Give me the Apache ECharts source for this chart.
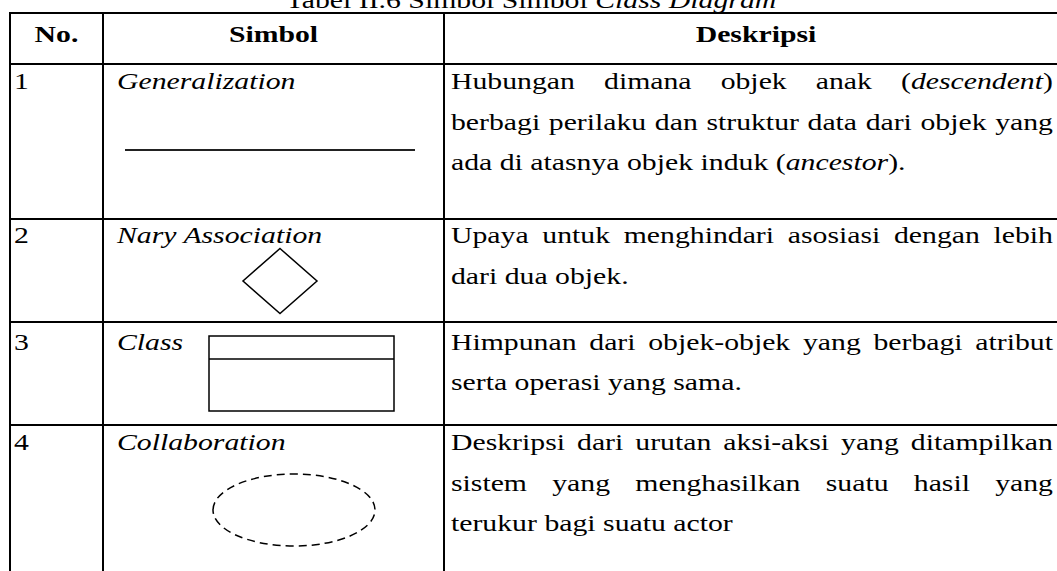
<!DOCTYPE html>
<html>
<head>
<meta charset="utf-8">
<style>
html,body{margin:0;padding:0;background:#fff;}
#chart{width:1057px;height:571px;}
</style>
<script src="https://cdn.jsdelivr.net/npm/echarts@6/dist/echarts.min.js"></script>
</head>
<body>
<div id="chart"></div>
<script>
// ---------------- DATA ----------------
const titleText = 'Tabel II.6 Simbol Simbol _Class Diagram_';
const headers = ['No.', 'Simbol', 'Deskripsi'];
const rowNumbers = ['1', '2', '3', '4'];
const symbolNames = ['Generalization', 'Nary Association', 'Class', 'Collaboration'];
const symbolKinds = ['line', 'diamond', 'classBox', 'dashedEllipse'];
const descriptions = [
  ['Hubungan dimana objek anak (_descendent_)',
   'berbagi perilaku dan struktur data dari objek yang',
   'ada di atasnya objek induk (_ancestor_).'],
  ['Upaya untuk menghindari asosiasi dengan lebih',
   'dari dua objek.'],
  ['Himpunan dari objek-objek yang berbagi atribut',
   'serta operasi yang sama.'],
  ['Deskripsi dari urutan aksi-aksi yang ditampilkan',
   'sistem yang menghasilkan suatu hasil yang',
   'terukur bagi suatu actor']
];

// ---------------- LAYOUT (table units) ----------------
const L = {
  fontFamily: 'Liberation Serif',
  size: 24,
  sx: 1.24,          // horizontal stretch of the scanned page
  mid: 8,            // baseline -> middle offset
  colX: [10, 103, 444, 1068],
  headTop: 13,
  headBottom: 64,
  rowBottoms: [219, 322, 425, 580],
  textX: [14, 117, 451],
  descRight: 1053,
  rowBaselineOffset: [25.5, 24.5, 28, 25.5],
  pitch: 40.5,
  titleCx: 531,
  titleBaseline: 8,
  headBaseline: 42,
  lineW: 2
};
const SYM = {
  line: { x1: 22, x2: 312, y: 86 },
  diamond: { cx: 177, cy: 62, hw: 37, hh: 32.5 },
  classBox: { x: 106, w: 185, y: 14, div: 37, bottom: 89 },
  dashedEllipse: { cx: 191, cy: 85, rx: 81, ry: 36 }
};

// ---------------- helpers ----------------
const mctx = document.createElement('canvas').getContext('2d');
function measure(text, italic, bold) {
  mctx.font = (italic ? 'italic ' : '') + (bold ? 'bold ' : '') + L.size + 'px "' + L.fontFamily + '"';
  return mctx.measureText(text).width * L.sx;
}
function parseSegments(line) {
  return line.split('_').map((t, i) => ({ text: t, italic: i % 2 === 1 })).filter(s => s.text.length);
}
function toWords(segs) {
  const words = []; let cur = [];
  segs.forEach(s => {
    s.text.split(' ').forEach((p, j) => {
      if (j > 0) { if (cur.length) words.push(cur); cur = []; }
      if (p) cur.push({ text: p, italic: s.italic });
    });
  });
  if (cur.length) words.push(cur);
  return words;
}

const chart = echarts.init(document.getElementById('chart'), null, { renderer: 'svg' });

function renderItem(params, api) {
  const P = (x, y) => api.coord([x, y]);
  const els = [];
  const lineEl = (x1, y1, x2, y2, extra) => {
    const a = P(x1, y1), b = P(x2, y2);
    els.push({ type: 'line', shape: { x1: a[0], y1: a[1], x2: b[0], y2: b[1] },
      style: Object.assign({ stroke: '#000', lineWidth: L.lineW }, extra || {}), silent: true });
  };
  const textEl = (x, baseline, text, italic, bold, align) => {
    const p = P(x, baseline - L.mid);
    els.push({ type: 'text', x: p[0], y: p[1], scaleX: L.sx, silent: true,
      style: { text: text, x: 0, y: 0, fill: '#000', fontFamily: L.fontFamily, fontSize: L.size,
        fontStyle: italic ? 'italic' : 'normal', fontWeight: bold ? 'bold' : 'normal',
        align: align || 'left', verticalAlign: 'middle' } });
  };
  const layoutLine = (line, x0, x1, baseline, justify, bold, center) => {
    const words = toWords(parseSegments(line));
    const ws = words.map(w => w.reduce((a, p) => a + measure(p.text, p.italic, bold), 0));
    const space = measure(' ', false, bold);
    const total = ws.reduce((a, b) => a + b, 0);
    let gap = space;
    if (justify && words.length > 1) gap = (x1 - x0 - total) / (words.length - 1);
    let x = center ? center - (total + space * (words.length - 1)) / 2 : x0;
    words.forEach(w => {
      w.forEach(p => { textEl(x, baseline, p.text, p.italic, bold); x += measure(p.text, p.italic, bold); });
      x += gap;
    });
  };

  const i = params.dataIndex;
  const C = L.colX;
  if (i === 0) {
    // title + header row
    layoutLine(titleText, 0, 0, L.titleBaseline, false, false, L.titleCx);
    lineEl(C[0] - 1, L.headTop, C[3] + 1, L.headTop);
    lineEl(C[0] - 1, L.headBottom, C[3] + 1, L.headBottom);
    C.forEach(cx => lineEl(cx, L.headTop, cx, L.headBottom));
    headers.forEach((h, k) => textEl((C[k] + C[k + 1]) / 2, L.headBaseline, h, false, true, 'center'));
  } else {
    const r = i - 1;
    const top = r === 0 ? L.headBottom : L.rowBottoms[r - 1];
    const bottom = L.rowBottoms[r];
    lineEl(C[0] - 1, bottom, C[3] + 1, bottom);
    C.forEach(cx => lineEl(cx, top, cx, bottom));
    const b0 = top + L.rowBaselineOffset[r];
    textEl(L.textX[0], b0, rowNumbers[r], false, false);
    textEl(L.textX[1], b0, symbolNames[r], true, false);
    const lines = descriptions[r];
    lines.forEach((ln, k) => layoutLine(ln, L.textX[2], L.descRight, b0 + k * L.pitch, k < lines.length - 1, false));
    // symbol
    const ox = C[1], oy = top;
    const kind = symbolKinds[r];
    const s = SYM[kind];
    if (kind === 'line') {
      lineEl(ox + s.x1, oy + s.y, ox + s.x2, oy + s.y, { stroke: '#222' });
    } else if (kind === 'diamond') {
      const pts = [[s.cx, s.cy - s.hh], [s.cx + s.hw, s.cy], [s.cx, s.cy + s.hh], [s.cx - s.hw, s.cy]]
        .map(q => P(ox + q[0], oy + q[1]));
      els.push({ type: 'polygon', shape: { points: pts }, style: { fill: 'none', stroke: '#000', lineWidth: 1.5 }, silent: true });
    } else if (kind === 'classBox') {
      const a = P(ox + s.x, oy + s.y), b = P(ox + s.x + s.w, oy + s.bottom);
      els.push({ type: 'rect', shape: { x: a[0], y: a[1], width: b[0] - a[0], height: b[1] - a[1] },
        style: { fill: 'none', stroke: '#000', lineWidth: 1.5 }, silent: true });
      lineEl(ox + s.x, oy + s.div, ox + s.x + s.w, oy + s.div, { lineWidth: 1.5 });
    } else if (kind === 'dashedEllipse') {
      const c = P(ox + s.cx, oy + s.cy), e = P(ox + s.cx + s.rx, oy + s.cy + s.ry);
      els.push({ type: 'ellipse', shape: { cx: c[0], cy: c[1], rx: e[0] - c[0], ry: e[1] - c[1] },
        style: { fill: 'none', stroke: '#000', lineWidth: 1.5, lineDash: [8, 5] }, silent: true });
    }
  }
  return { type: 'group', children: els };
}

chart.setOption({
  animation: false,
  backgroundColor: '#fff',
  grid: { left: 0, right: 0, top: 0, bottom: 0 },
  xAxis: { type: 'value', min: 0, max: 1057, show: false },
  yAxis: { type: 'value', min: 0, max: 571, inverse: true, show: false },
  series: [{
    type: 'custom',
    renderItem: renderItem,
    clip: false,
    data: [0, 1, 2, 3, 4].map(i => [i, 0])
  }]
});
</script>
</body>
</html>
